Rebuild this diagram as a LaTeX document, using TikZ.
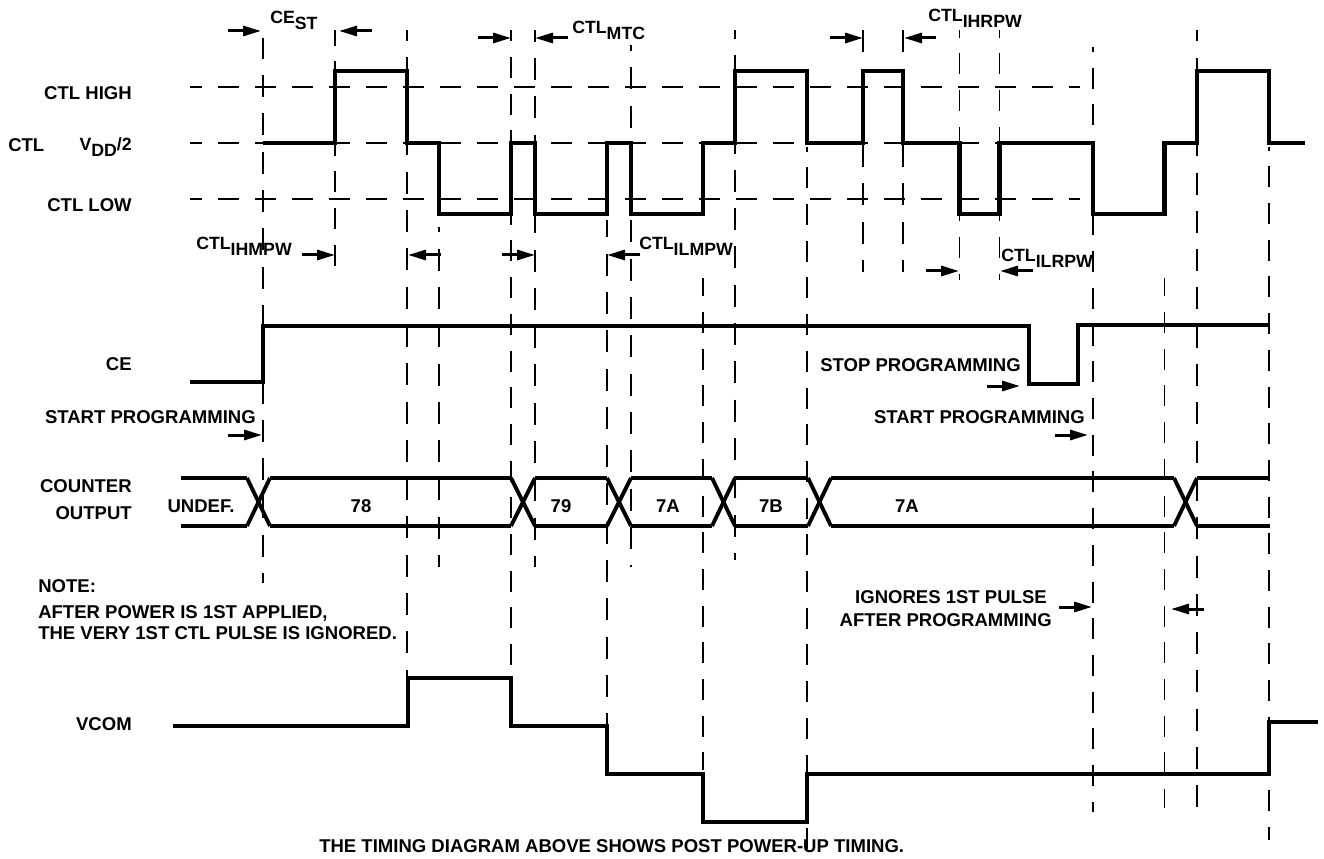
\documentclass[tikz,border=0pt]{standalone}
\usepackage{fontspec}
\setmainfont{Liberation Sans}
\usetikzlibrary{arrows.meta}

\newcommand{\lowsub}[1]{\raisebox{-4pt}{#1}}

\tikzset{
	signal/.style={line width=3.5pt},
	crossing/.style={line width=2.9pt},
	level/.style={line width=1.1pt, dash pattern=on 15.75pt off 12pt},
	guide/.style={line width=1.1pt, dash pattern=on 15.75pt off 11.775pt, dash phase=#1},
	guidewide/.style={line width=1.1pt, dash pattern=on 16.5pt off 12.225pt, dash phase=#1},
	span/.style={line width=2.25pt, -{Triangle[length=13.5pt, width=7.5pt]}},
	lab/.style={font=\fontsize{13.9pt}{15pt}\selectfont\bfseries, inner sep=0pt},
	labl/.style={lab, anchor=base west},
	labr/.style={lab, anchor=base east},
	labc/.style={lab, anchor=base},
	labt/.style={labl, font=\fontsize{13.3pt}{15pt}\selectfont\bfseries}
}

\begin{document}
\begin{tikzpicture}[x=0.75pt, y=-0.75pt]
	\useasboundingbox (0, 0) rectangle (1324, 859);

	\draw[level, dash phase=6.75pt] (190, 87) -- (1080, 87);
	\draw[level, dash phase=6.75pt] (190, 143) -- (1080, 143);
	\draw[level, dash phase=6.75pt] (190, 199) -- (1080, 199);

	\draw[guidewide=0.9pt] (263, 38) -- (263, 583);
	\draw[guide=4pt] (335, 30) -- (335, 279);
	\draw[guidewide=8.6pt] (407, 30) -- (407, 678);
	\draw[guidewide=12.5pt] (439, 227) -- (439, 567);
	\draw[guide=7.3pt] (511, 30) -- (511, 678);
	\draw[guidewide=7.7pt] (535, 30) -- (535, 567);
	\draw[guidewide=3.5pt] (607, 220) -- (607, 725);
	\draw[guidewide=12pt] (631, 45) -- (631, 567);
	\draw[guide=2pt] (703, 278) -- (703, 770);
	\draw[guidewide=10pt] (735, 30) -- (735, 560);
	\draw[guide=12.3pt] (807, 147) -- (807, 850);
	\draw[guidewide=22.5pt] (863, 22) -- (863, 272);
	\draw[guidewide=22.5pt] (903, 22) -- (903, 272);
	\draw[guide=10pt] (959.5, 30) -- (959.5, 280);
	\draw[guide=10pt] (999.5, 30) -- (999.5, 280);
	\draw[guide=12pt] (1093, 47) -- (1093, 812);
	\draw[guide=2pt] (1164.5, 278) -- (1164.5, 808);
	\draw[guidewide=8pt] (1197, 30) -- (1197, 823);
	\draw[guide=13pt] (1269, 147) -- (1269, 840);

	\draw[signal] (263, 143) -- (335, 143) -- (335, 71) -- (407, 71) -- (407, 143) -- (439, 143) -- (439, 214) -- (511, 214) -- (511, 143) -- (535, 143) -- (535, 214) -- (607, 214) -- (607, 143) -- (631, 143) -- (631, 214) -- (703, 214) -- (703, 143) -- (735, 143) -- (735, 71) -- (807, 71) -- (807, 143) -- (863, 143) -- (863, 71) -- (903, 71) -- (903, 143) -- (959.5, 143) -- (959.5, 214) -- (999.5, 214) -- (999.5, 143) -- (1093, 143) -- (1093, 214) -- (1164.5, 214) -- (1164.5, 143) -- (1197, 143) -- (1197, 71) -- (1269, 71) -- (1269, 143) -- (1305, 143);

	\draw[signal] (190, 382) -- (263, 382) -- (263, 326) -- (1029, 326) -- (1029, 384) -- (1078, 384) -- (1078, 325) -- (1270, 325);

	\draw[signal] (181, 478) -- (247, 478);
	\draw[signal] (181, 526) -- (247, 526);
	\draw[crossing] (247, 478) -- (270, 526);
	\draw[crossing] (247, 526) -- (270, 478);
	\draw[signal] (270, 478) -- (511, 478);
	\draw[signal] (270, 526) -- (511, 526);
	\draw[crossing] (511, 478) -- (535, 526);
	\draw[crossing] (511, 526) -- (535, 478);
	\draw[signal] (535, 478) -- (607, 478);
	\draw[signal] (535, 526) -- (607, 526);
	\draw[crossing] (607, 478) -- (631, 526);
	\draw[crossing] (607, 526) -- (631, 478);
	\draw[signal] (631, 478) -- (712, 478);
	\draw[signal] (631, 526) -- (712, 526);
	\draw[crossing] (712, 478) -- (735, 526);
	\draw[crossing] (712, 526) -- (735, 478);
	\draw[signal] (735, 478) -- (808, 478);
	\draw[signal] (735, 526) -- (808, 526);
	\draw[crossing] (808, 478) -- (831, 526);
	\draw[crossing] (808, 526) -- (831, 478);
	\draw[signal] (831, 478) -- (1174, 478);
	\draw[signal] (831, 526) -- (1174, 526);
	\draw[crossing] (1174, 478) -- (1197, 526);
	\draw[crossing] (1174, 526) -- (1197, 478);
	\draw[signal] (1197, 478) -- (1270, 478);
	\draw[signal] (1197, 526) -- (1270, 526);

	\draw[signal] (173, 726) -- (408, 726) -- (408, 678) -- (511, 678) -- (511, 726) -- (607, 726) -- (607, 774) -- (703, 774) -- (703, 822) -- (807, 822) -- (807, 774) -- (1269, 774) -- (1269, 722) -- (1318, 722);

	\draw[span] (228, 31) -- (261, 31);
	\draw[span] (372, 31) -- (339, 31);
	\draw[span] (478, 38) -- (511, 38);
	\draw[span] (568, 38) -- (535, 38);
	\draw[span] (830, 38) -- (863, 38);
	\draw[span] (936, 38) -- (904, 38);
	\draw[span] (302, 255) -- (335, 255);
	\draw[span] (441, 255) -- (408, 255);
	\draw[span] (502, 255) -- (535, 255);
	\draw[span] (640, 255) -- (607, 255);
	\draw[span] (926, 271) -- (959, 271);
	\draw[span] (1033, 271) -- (1000, 271);
	\draw[span] (987, 386) -- (1020, 386);
	\draw[span] (228, 435) -- (262, 435);
	\draw[span] (1055, 435) -- (1088, 435);
	\draw[span] (1059, 607) -- (1092, 607);
	\draw[span] (1204, 609) -- (1171, 609);

	\node[labt] (cest) at (270, 24) {CE\lowsub{ST}};
	\node[labt] (ctlmtc) at (572, 34) {CTL\lowsub{MTC}};
	\node[labt] (ctlihrpw) at (928, 22) {CTL\lowsub{IHRPW}};
	\node[labt] (ctlihmpw) at (196, 250) {CTL\lowsub{IHMPW}};
	\node[labt] (ctlilmpw) at (639, 250) {CTL\lowsub{ILMPW}};
	\node[labt] (ctlilrpw) at (1001, 262) {CTL\lowsub{ILRPW}};

	\node[labr] (ctlhigh) at (132, 100) {CTL HIGH};
	\node[labl] (ctlname) at (8, 152) {CTL};
	\node[labt, anchor=base east] (vddhalf) at (132, 151) {V\lowsub{DD}/2};
	\node[labr] (ctllow) at (132, 212) {CTL LOW};
	\node[labr] (cename) at (132, 370) {CE};
	\node[labr] (counter) at (132, 492) {COUNTER};
	\node[labr] (output) at (132, 519) {OUTPUT};
	\node[labr] (vcom) at (132, 730) {VCOM};

	\node[labr] (startleft) at (256, 423) {START PROGRAMMING};
	\node[labr] (stopright) at (1021, 371) {STOP PROGRAMMING};
	\node[labr] (startright) at (1085, 423) {START PROGRAMMING};

	\node[labc] (undef) at (201, 512) {UNDEF.};
	\node[labc] (val78) at (361, 512) {78};
	\node[labc] (val79) at (561, 512) {79};
	\node[labc] (val7a) at (668, 512) {7A};
	\node[labc] (val7b) at (771, 512) {7B};
	\node[labc] (val7c) at (907, 512) {7A};

	\node[labl] (note) at (38, 592) {NOTE:};
	\node[labl] (noteone) at (38, 618) {AFTER POWER IS 1ST APPLIED,};
	\node[labl] (notetwo) at (38, 639) {THE VERY 1ST CTL PULSE IS IGNORED.};

	\node[labr] (ignores) at (1047, 603) {IGNORES 1ST PULSE};
	\node[labr] (afterprog) at (1052, 626) {AFTER PROGRAMMING};

	\node[labl] (caption) at (319, 852) {THE TIMING DIAGRAM ABOVE SHOWS POST POWER-UP TIMING.};
\end{tikzpicture}
\end{document}
